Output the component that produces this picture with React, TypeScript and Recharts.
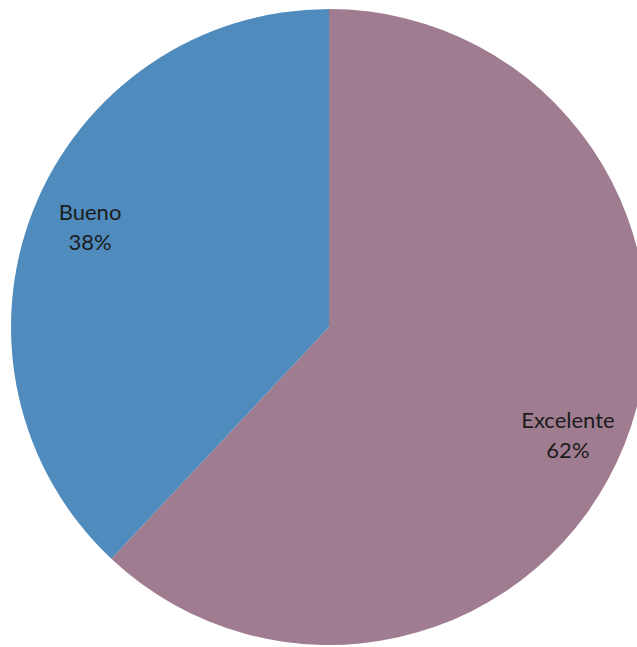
import { PieChart, Pie, Cell } from 'recharts'

const categories = ['Excelente', 'Bueno']
const values = [62, 38]
const COLORS = ['#a07c91', '#4f8bbc']

const data = categories.map((name, i) => ({ name, value: values[i] }))

const RAD = Math.PI / 180

function renderLabel(props: any) {
  const { cx, cy, midAngle, outerRadius, percent, name } = props
  const r = outerRadius * 0.82
  const a = midAngle - 2
  const x = cx + r * Math.cos(-a * RAD)
  const y = cy + r * Math.sin(-a * RAD)
  return (
    <text
      x={x}
      y={y}
      textAnchor="middle"
      fill="#1c1c1c"
      style={{ fontFamily: 'Lato, "Open Sans", sans-serif', fontSize: 22 }}
    >
      <tspan x={x} dy={-3}>{name}</tspan>
      <tspan x={x} dy={30}>{`${Math.round(percent * 100)}%`}</tspan>
    </text>
  )
}

export default function App() {
  return (
    <div style={{ position: 'fixed', top: 0, left: 0, width: 637, height: 647, background: '#fff' }}>
      <PieChart width={637} height={647} margin={{ top: 0, right: 0, bottom: 0, left: 0 }}>
        <Pie
          data={data}
          dataKey="value"
          nameKey="name"
          cx={329}
          cy={327}
          outerRadius={318}
          startAngle={90}
          endAngle={-270}
          stroke="none"
          labelLine={false}
          label={renderLabel}
          isAnimationActive={false}
        >
          {data.map((entry, i) => (
            <Cell key={`cell-${entry.name}`} fill={COLORS[i]} />
          ))}
        </Pie>
      </PieChart>
    </div>
  )
}
